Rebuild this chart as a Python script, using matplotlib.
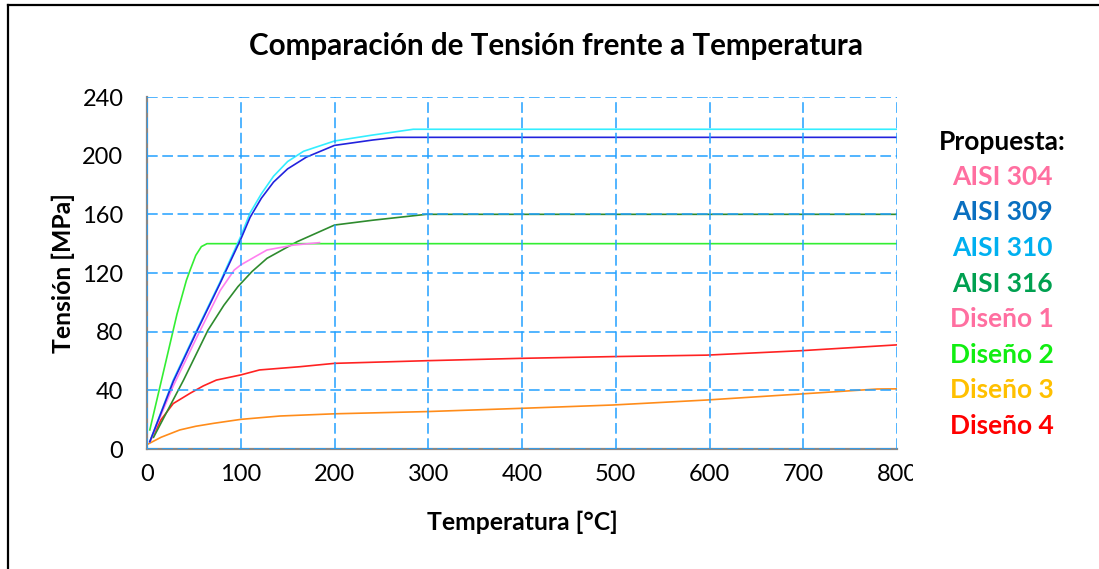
import matplotlib
matplotlib.use("Agg")
import matplotlib.pyplot as plt
from matplotlib.lines import Line2D
from matplotlib.transforms import Bbox, TransformedBbox

plt.rcParams['font.family'] = ['Lato', 'DejaVu Sans']

# Temperature [°C] / stress [MPa] samples for each material
t_304 = [3, 28, 53, 78, 93, 100, 115, 128, 156, 184]
s_304 = [5, 43, 76, 108, 122, 125.5, 131, 135.7, 139, 140.7]

t_309 = [3, 28, 53, 78, 100, 110, 122, 135, 150, 170, 200, 241, 266, 800]
s_309 = [5, 46, 80, 113, 143, 158, 171, 182, 191, 199, 207, 210.7, 212.5, 212.5]

t_310 = [3, 28, 53, 78, 100, 110, 122, 135, 150, 167, 200, 240, 284, 800]
s_310 = [5, 47, 81, 114, 145, 161, 174, 186, 196, 203, 210, 214, 218, 218]

t_316 = [7, 39, 65, 82, 97, 112, 128, 145, 160, 180, 200, 241, 298, 800]
s_316 = [8, 47, 81, 98, 110.7, 121, 130, 136, 141.3, 147, 152.7, 156, 160, 160]

t_d2 = [3, 32, 42, 46, 52, 58, 64, 69, 800]
s_d2 = [13, 92, 115, 122, 132, 138, 140, 140, 140]

t_d3 = [0, 15, 35, 52, 71, 100, 142, 200, 298, 398, 497, 597, 697, 779, 800]
s_d3 = [3, 8, 13, 15.5, 17.5, 20.2, 22.5, 24, 25.5, 27.7, 30, 33.4, 37.5, 40.9, 41]

t_d4 = [3, 15, 28, 46, 60, 74, 100, 120, 163, 200, 298, 398, 497, 597, 697, 800]
s_d4 = [5, 20, 31, 38, 43, 47, 50.5, 53.9, 56.1, 58.4, 60.2, 61.8, 63, 64, 67, 71]

x_ticks = [0, 100, 200, 300, 400, 500, 600, 700, 800]
y_ticks = [0, 40, 80, 120, 160, 200, 240]

legend_labels = ["AISI 304", "AISI 309", "AISI 310", "AISI 316",
                 "Diseño 1", "Diseño 2", "Diseño 3", "Diseño 4"]
legend_colors = ["#FF6FA0", "#0A6FC0", "#00B0F0", "#00A050",
                 "#FF6FA0", "#11EE11", "#FFC000", "#FF0000"]

W, H = 1099, 569
fig = plt.figure(figsize=(W / 100, H / 100), dpi=100)
ax = fig.add_axes([147 / W, 1 - 449 / H, (897 - 147) / W, (449 - 97) / H])

lw = 1.2
ax.plot(t_d3, s_d3, color="#FF8C1A", lw=lw)
ax.plot(t_d4, s_d4, color="#FF2222", lw=lw)
ax.plot(t_316, s_316, color="#2E8B2E", lw=lw)
ax.plot(t_d2, s_d2, color="#33EE33", lw=lw)
ax.plot(t_304, s_304, color="#FF80F0", lw=lw)
ax.plot(t_310, s_310, color="#33EEFF", lw=lw)
ax.plot(t_309, s_309, color="#2222DD", lw=lw)

ax.set_xlim(0, 800)
ax.set_ylim(0, 240)
ax.set_xticks(x_ticks)
ax.set_yticks(y_ticks)
ax.set_axisbelow(False)
ax.grid(True, color="#22A0FF", lw=1.1, dashes=(7, 3))
ax.tick_params(length=0, labelsize=17)
ax.tick_params(axis="y", pad=17)
ax.tick_params(axis="x", pad=11)
for side in ("top", "right"):
    ax.spines[side].set_visible(False)
for side in ("left", "bottom"):
    ax.spines[side].set_color("#888888")
    ax.spines[side].set_linewidth(1.6)

ax.set_xlabel("Temperatura [°C]", fontsize=17.8, fontweight="bold", labelpad=18)
ax.set_ylabel("Tensión [MPa]", fontsize=17.8, fontweight="bold", labelpad=5)

fig.text(556 / W, 1 - 46 / H, "Comparación de Tensión frente a Temperatura",
         fontsize=21.3, fontweight="bold", ha="center", va="center")

# colored text list on the right
xc = 1002 / W
fig.text(xc, 1 - 141.7 / H, "Propuesta:", fontsize=19, fontweight="bold",
         ha="center", va="center", color="black")
for i, (lab, col) in enumerate(zip(legend_labels, legend_colors)):
    y = 176.7 + i * 35.6
    fig.text(xc, 1 - y / H, lab, fontsize=19, fontweight="bold",
             ha="center", va="center", color=col)

# outer frame (left and top edges)
fig.add_artist(Line2D([7.5 / W, 7.5 / W], [0, 1 - 4.5 / H], color="black",
                      lw=1.6, transform=fig.transFigure))
fig.add_artist(Line2D([7.5 / W, 1], [1 - 4.5 / H, 1 - 4.5 / H], color="black",
                      lw=1.6, transform=fig.transFigure))

# last x tick label is cut by the plot area boundary
clip = TransformedBbox(Bbox.from_extents(0, 0, 913 / W, 1), fig.transFigure)
for lbl in ax.get_xticklabels():
    lbl.set_clip_box(clip)
    lbl.set_clip_on(True)

fig.savefig("out.png", dpi=100, facecolor="white")
